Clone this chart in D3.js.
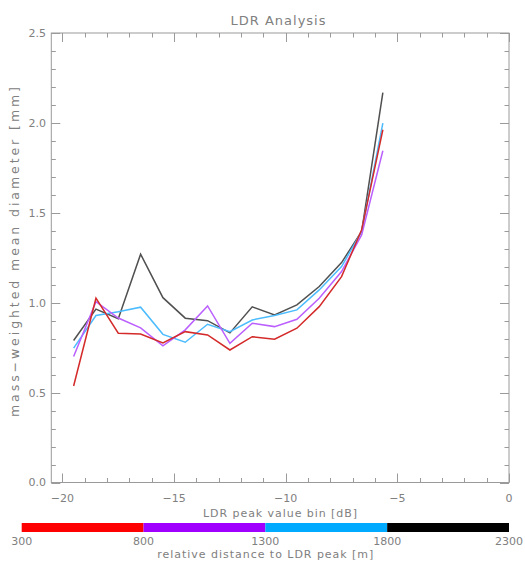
<!DOCTYPE html>
<html>
<head>
<meta charset="utf-8">
<script src="https://cdn.jsdelivr.net/npm/d3@7"></script>
<style>
  html, body { margin: 0; padding: 0; background: #fff; }
  text { font-family: "DejaVu Sans", "Liberation Sans", sans-serif; fill: #808080; }
</style>
</head>
<body>
<svg id="chart" width="525" height="562"></svg>
<script>
// ---- data ----
const ldrBins = [-19.5, -18.5, -17.5, -16.5, -15.5, -14.5, -13.5, -12.5, -11.5, -10.5, -9.5, -8.5, -7.5, -6.6, -5.65];
const dist300_800   = [0.537, 1.025, 0.830, 0.826, 0.776, 0.839, 0.821, 0.737, 0.811, 0.797, 0.858, 0.978, 1.145, 1.405, 1.962];
const dist800_1300  = [0.701, 1.006, 0.915, 0.860, 0.760, 0.849, 0.982, 0.774, 0.886, 0.867, 0.908, 1.025, 1.173, 1.377, 1.845];
const dist1300_1800 = [0.747, 0.929, 0.950, 0.975, 0.824, 0.780, 0.880, 0.839, 0.904, 0.929, 0.960, 1.071, 1.201, 1.396, 1.999];
const dist1800_2300 = [0.790, 0.964, 0.911, 1.270, 1.028, 0.914, 0.900, 0.832, 0.977, 0.932, 0.988, 1.090, 1.223, 1.396, 2.169];
const xTicks = [-20, -15, -10, -5, 0];
const yTicks = [0.0, 0.5, 1.0, 1.5, 2.0, 2.5];
const cbEdges = [300, 800, 1300, 1800, 2300];
const cbColors = ["#ff0000", "#a000ff", "#00aaff", "#000000"];
const lineColors = ["#d42a2a", "#bb60ff", "#4cbcff", "#505050"];
const titleText = "LDR Analysis";
const xLabel = "LDR peak value bin [dB]";
const yLabel = "mass\u2212weighted mean diameter [mm]";
const cbLabel = "relative distance to LDR peak [m]";

const series = [dist300_800, dist800_1300, dist1300_1800, dist1800_2300];

// ---- layout ----
const svg = d3.select("#chart");
const L = 51.3, R = 509, T = 33, B = 482.5;
const x = d3.scaleLinear().domain([-20.5, 0]).range([L, R]);
const y = d3.scaleLinear().domain([0, 2.5]).range([B, T]);
const axisColor = "#9a9a9a";

// box
svg.append("rect").attr("x", L).attr("y", T).attr("width", R - L).attr("height", B - T)
  .attr("fill", "none").attr("stroke", axisColor).attr("stroke-width", 1);

// ticks on all four sides
const xMinor = d3.range(-20, 0.001, 1);
const yMinor = d3.range(0, 2.5001, 0.1);
const tickG = svg.append("g").attr("stroke", axisColor).attr("stroke-width", 1);
xMinor.forEach(v => {
  const major = Math.abs(v % 5) < 1e-6;
  const len = major ? 9 : 4.5;
  const px = Math.round(x(v)) + 0.5;
  tickG.append("line").attr("x1", px).attr("x2", px).attr("y1", B).attr("y2", B - len);
  tickG.append("line").attr("x1", px).attr("x2", px).attr("y1", T).attr("y2", T + len);
});
yMinor.forEach(v => {
  const r = Math.round(v * 10) % 5;
  const len = r === 0 ? 9 : 4.5;
  const py = Math.round(y(v)) + 0.5;
  tickG.append("line").attr("x1", L).attr("x2", L + len).attr("y1", py).attr("y2", py);
  tickG.append("line").attr("x1", R).attr("x2", R - len).attr("y1", py).attr("y2", py);
});

// tick labels
svg.append("g").selectAll("text").data(xTicks).join("text")
  .attr("x", d => x(d)).attr("y", 502).attr("text-anchor", "middle")
  .attr("font-size", 11)
  .text(d => d === 0 ? "0" : "\u2212" + Math.abs(d));
svg.append("g").selectAll("text").data(yTicks).join("text")
  .attr("x", 46).attr("y", d => y(d)).attr("dy", "0.36em").attr("text-anchor", "end")
  .attr("font-size", 11)
  .text(d => d.toFixed(1));

// titles
svg.append("text").attr("x", 278).attr("y", 25).attr("text-anchor", "middle")
  .attr("font-size", 13).attr("textLength", 95).attr("lengthAdjust", "spacing").text(titleText);
svg.append("text").attr("x", 280).attr("y", 517).attr("text-anchor", "middle")
  .attr("font-size", 11).attr("textLength", 154).attr("lengthAdjust", "spacing").text(xLabel);
svg.append("text").attr("transform", `translate(19,252) rotate(-90)`)
  .attr("text-anchor", "middle").attr("font-size", 12.5)
  .attr("textLength", 330).attr("lengthAdjust", "spacing").text(yLabel);

// lines
const line = d3.line().x((d, i) => x(ldrBins[i])).y(d => y(d));
const order = [3, 2, 1, 0];
order.forEach(k => {
  svg.append("path").datum(series[k]).attr("d", line)
    .attr("fill", "none").attr("stroke", lineColors[k]).attr("stroke-width", 1.5)
    .attr("stroke-linejoin", "miter");
});

// colorbar
const cb = d3.scaleLinear().domain([300, 2300]).range([21.7, 509]);
svg.append("g").selectAll("rect").data(d3.range(cbEdges.length - 1)).join("rect")
  .attr("x", i => cb(cbEdges[i])).attr("width", i => cb(cbEdges[i + 1]) - cb(cbEdges[i]))
  .attr("y", 523).attr("height", 9).attr("fill", i => cbColors[i]);
svg.append("g").selectAll("text").data(cbEdges).join("text")
  .attr("x", d => cb(d)).attr("y", 545).attr("text-anchor", "middle")
  .attr("font-size", 11).text(d => d);
svg.append("text").attr("x", (cb(300) + cb(2300)) / 2).attr("y", 558).attr("text-anchor", "middle")
  .attr("font-size", 11).attr("textLength", 216).attr("lengthAdjust", "spacing").text(cbLabel);
</script>
</body>
</html>
